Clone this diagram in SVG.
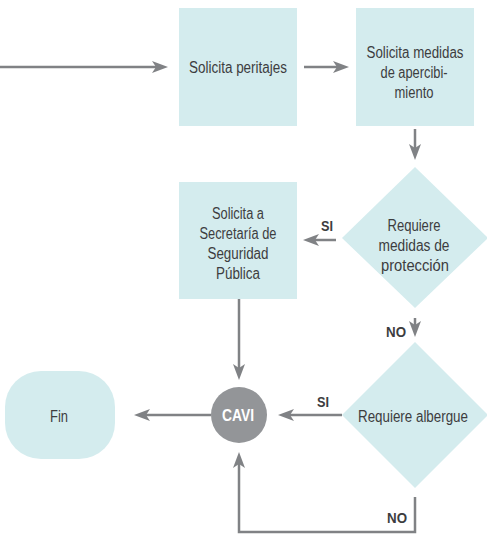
<svg xmlns="http://www.w3.org/2000/svg" width="487" height="535" viewBox="0 0 487 535">
<style>
.box{fill:#d4ecee;}
.t{font-family:"Liberation Sans",Arial,sans-serif;font-size:16px;fill:#3d3d3f;text-anchor:middle;}
.lb{font-family:"Liberation Sans",Arial,sans-serif;font-size:15.5px;font-weight:bold;fill:#3d3d3f;text-anchor:middle;}
.cv{font-family:"Liberation Sans",Arial,sans-serif;font-size:16px;font-weight:bold;fill:#ffffff;text-anchor:middle;}
.c{fill:none;stroke:#808285;stroke-width:2.5;}
</style>
<defs>
<marker id="ah" viewBox="0 0 16 12" markerUnits="userSpaceOnUse" markerWidth="16" markerHeight="12" refX="10" refY="6" orient="auto">
<path d="M0,0 L16,6 L0,12 L4,6 Z" fill="#808285"/>
</marker>
</defs>
<g id="connectors">
<line class="c" x1="0" y1="67" x2="162" y2="67" marker-end="url(#ah)"/>
<line class="c" x1="304" y1="67" x2="343" y2="67" marker-end="url(#ah)"/>
<line class="c" x1="415" y1="129" x2="415" y2="154" marker-end="url(#ah)"/>
<line class="c" x1="336" y1="240" x2="309" y2="240" marker-end="url(#ah)"/>
<line class="c" x1="415" y1="318" x2="415" y2="331" marker-end="url(#ah)"/>
<line class="c" x1="239" y1="299" x2="239" y2="374" marker-end="url(#ah)"/>
<line class="c" x1="342" y1="415" x2="284" y2="415" marker-end="url(#ah)"/>
<line class="c" x1="211" y1="415" x2="140" y2="415" marker-end="url(#ah)"/>
<polyline class="c" points="415,497 415,532 239,532 239,458" marker-end="url(#ah)"/>
<text class="lb" x="327" y="231" textLength="12" lengthAdjust="spacingAndGlyphs">SI</text>
<text class="lb" x="396" y="337" textLength="20" lengthAdjust="spacingAndGlyphs">NO</text>
<text class="lb" x="323" y="407" textLength="12" lengthAdjust="spacingAndGlyphs">SI</text>
<text class="lb" x="397" y="523" textLength="20" lengthAdjust="spacingAndGlyphs">NO</text>
</g>
<g id="peritajes">
<rect class="box" x="179" y="8" width="118" height="118"/>
<text class="t" x="238" y="73" textLength="98" lengthAdjust="spacingAndGlyphs">Solicita peritajes</text>
</g>
<g id="apercibimiento">
<rect class="box" x="356" y="8" width="118" height="118"/>
<text class="t" x="415" y="58" textLength="97" lengthAdjust="spacingAndGlyphs">Solicita medidas</text>
<text class="t" x="414" y="78" textLength="67" lengthAdjust="spacingAndGlyphs">de apercibi-</text>
<text class="t" x="414" y="98" textLength="39" lengthAdjust="spacingAndGlyphs">miento</text>
</g>
<g id="secretaria">
<rect class="box" x="179" y="182" width="118" height="117"/>
<text class="t" x="238" y="219" textLength="52" lengthAdjust="spacingAndGlyphs">Solicita a</text>
<text class="t" x="238" y="239" textLength="77" lengthAdjust="spacingAndGlyphs">Secretaría de</text>
<text class="t" x="238" y="259" textLength="61" lengthAdjust="spacingAndGlyphs">Seguridad</text>
<text class="t" x="238" y="279" textLength="44" lengthAdjust="spacingAndGlyphs">Pública</text>
</g>
<g id="proteccion">
<polygon class="box" points="415,167 488,238 415,308 342,238"/>
<text class="t" x="414" y="231" textLength="53" lengthAdjust="spacingAndGlyphs">Requiere</text>
<text class="t" x="414" y="251" textLength="71" lengthAdjust="spacingAndGlyphs">medidas de</text>
<text class="t" x="415" y="271" textLength="68" lengthAdjust="spacingAndGlyphs">protección</text>
</g>
<g id="albergue">
<polygon class="box" points="415,342 488,415 415,488 342,415"/>
<text class="t" x="413" y="422" textLength="110" lengthAdjust="spacingAndGlyphs">Requiere albergue</text>
</g>
<g id="cavi">
<circle cx="239" cy="415" r="28" fill="#939598"/>
<text class="cv" x="238" y="421" textLength="32" lengthAdjust="spacingAndGlyphs">CAVI</text>
</g>
<g id="fin">
<rect class="box" x="5" y="371" width="110" height="88" rx="36" ry="36"/>
<text class="t" x="59" y="422" textLength="18" lengthAdjust="spacingAndGlyphs">Fin</text>
</g>
</svg>
